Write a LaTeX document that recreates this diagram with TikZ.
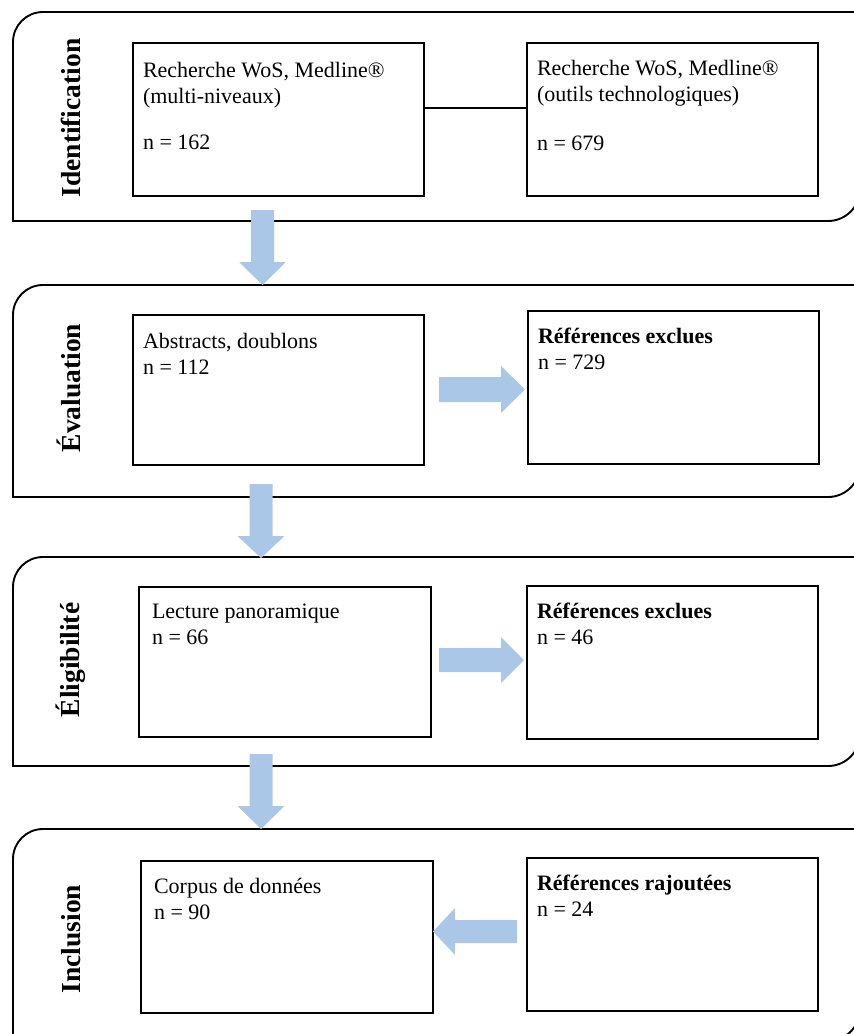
\documentclass[tikz,border=0pt]{standalone}
\usepackage{fontspec}
\setmainfont{Liberation Serif}
\definecolor{arrowblue}{RGB}{170,199,232}
\tikzset{
  panel/.style={draw=black, line width=1.9pt},
  boxnode/.style={draw=black, line width=1.2pt, inner sep=0pt, outer sep=0pt},
  txt/.style={inner sep=0pt, outer sep=0pt, anchor=north west, align=left, font=\fontsize{22}{26}\selectfont},
  phase/.style={inner sep=0pt, outer sep=0pt, rotate=90, anchor=base, font=\fontsize{27.5}{30}\selectfont\bfseries},
  blockarrow/.style={fill=arrowblue, draw=none},
}
\begin{document}
\begin{tikzpicture}[x=1pt,y=-1pt]
\useasboundingbox (0,0) rectangle (854,1034);
\clip (0,0) rectangle (854,1034);
\fill[white] (0,0) rectangle (854,1034);
% panels
\foreach \T/\B in {12/221, 285/497, 557/766, 829/1041}{
  \draw[panel] (13,\B) -- (13,\T+30) .. controls (13,\T+13.4) and (26.4,\T) .. (43,\T)
    -- (860,\T) -- (860,\B-32) .. controls (860,\B-14.3) and (845.7,\B) .. (828,\B) -- cycle;
}
% phase labels
\node[phase] (l1) at (80,118) {Identification};
\node[phase] (l2) at (80,388) {Évaluation};
\node[phase] (l3) at (79.5,660) {Éligibilité};
\node[phase] (l4) at (80,939) {Inclusion};
% boxes
\node[boxnode, minimum width=291pt, minimum height=153pt] (b1) at (278.5,119.5) {};
\node[boxnode, minimum width=291pt, minimum height=153pt] (b2) at (672.5,119.5) {};
\node[boxnode, minimum width=291pt, minimum height=150pt] (b3) at (278.5,390) {};
\node[boxnode, minimum width=291pt, minimum height=153pt] (b4) at (673.5,387.5) {};
\node[boxnode, minimum width=292pt, minimum height=150pt] (b5) at (285,662) {};
\node[boxnode, minimum width=291pt, minimum height=153pt] (b6) at (672.5,662.5) {};
\node[boxnode, minimum width=292pt, minimum height=152pt] (b7) at (287,937) {};
\node[boxnode, minimum width=291pt, minimum height=153pt] (b8) at (672.5,934.5) {};
% texts
\node[txt] (t1) at ([xshift=10pt,yshift=-16pt]b1.north west) {\strut Recherche WoS, Medline®\\(multi-niveaux)\\[20pt]n = 162};
\node[txt] (t2) at ([xshift=10pt,yshift=-14pt]b2.north west) {\strut Recherche WoS, Medline®\\(outils technologiques)\\[23pt]n = 679};
\node[txt] (t3) at ([xshift=10pt,yshift=-15pt]b3.north west) {\strut Abstracts, doublons\\n = 112};
\node[txt] (t4) at ([xshift=10pt,yshift=-14pt]b4.north west) {\strut\textbf{Références exclues}\\n = 729};
\node[txt] (t5) at ([xshift=13pt,yshift=-13pt]b5.north west) {\strut Lecture panoramique\\n = 66};
\node[txt] (t6) at ([xshift=10pt,yshift=-14pt]b6.north west) {\strut\textbf{Références exclues}\\n = 46};
\node[txt] (t7) at ([xshift=13pt,yshift=-14pt]b7.north west) {\strut Corpus de données\\n = 90};
\node[txt] (t8) at ([xshift=10pt,yshift=-14pt]b8.north west) {\strut\textbf{Références rajoutées}\\n = 24};
% connector between search boxes
\draw[line width=1.2pt] ([yshift=11.5pt]b1.east) -- ([yshift=11.5pt]b2.west);
% down arrows
\fill[blockarrow] (251,210) -- (274,210) -- (274,262) -- (286,262) -- (262.5,285) -- (239,262) -- (251,262) -- cycle;
\fill[blockarrow] (249.5,484) -- (272.5,484) -- (272.5,536) -- (284.5,536) -- (261,558) -- (237.5,536) -- (249.5,536) -- cycle;
\fill[blockarrow] (249.5,754) -- (272.5,754) -- (272.5,806) -- (284.5,806) -- (261,829) -- (237.5,806) -- (249.5,806) -- cycle;
% right arrows
\fill[blockarrow] (439,377) -- (501,377) -- (501,366) -- (525,389.5) -- (501,413) -- (501,402) -- (439,402) -- cycle;
\fill[blockarrow] (439,648) -- (501,648) -- (501,637) -- (524,660) -- (501,683) -- (501,672) -- (439,672) -- cycle;
% left arrow
\fill[blockarrow] (517,920) -- (455,920) -- (455,908) -- (433,931.5) -- (455,955) -- (455,943) -- (517,943) -- cycle;
\end{tikzpicture}
\end{document}
